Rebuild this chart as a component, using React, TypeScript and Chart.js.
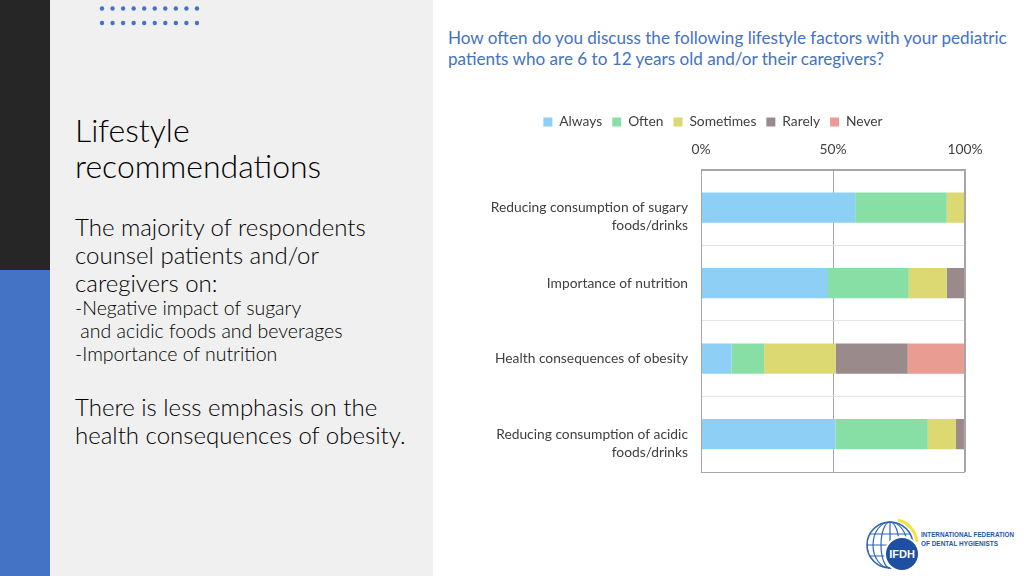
import React, { useEffect, useRef } from "react";
import { Chart, registerables } from "chart.js";

Chart.register(...registerables);

// ---------- data ----------
const categories: (string | string[])[] = [
  ["", "Reducing consumption of sugary", "foods/drinks"],
  "Importance of nutrition",
  "Health consequences of obesity",
  ["", "Reducing consumption of acidic", "foods/drinks"],
];
const seriesNames = ["Always", "Often", "Sometimes", "Rarely", "Never"];
const always = [58.4, 48.1, 11.6, 50.9];
const often = [34.7, 30.6, 12.3, 35.0];
const sometimes = [6.6, 14.4, 27.1, 10.7];
const rarely = [0.3, 6.6, 27.3, 3.0];
const never = [0.0, 0.3, 21.7, 0.4];
const seriesColors = ["#8ECFF5", "#88DFA6", "#DCD872", "#9B8A8B", "#E99D92"];
const xTickValues = [0, 50, 100];
const xTickLabels = ["0%", "50%", "100%"];

const chartTitle = [
  "How often do you discuss the following lifestyle factors with your pediatric",
  "patients who are 6 to 12 years old and/or their caregivers?",
];

const FONT = "Lato, 'Open Sans', sans-serif";
const CHART_FONT_SIZE = 13.8;

const plotBorder = {
  id: "plotBorder",
  afterDraw(chart: any) {
    const { ctx, chartArea } = chart;
    const { left, top, right, bottom } = chartArea;
    ctx.save();
    ctx.strokeStyle = "#A6A6A6";
    ctx.lineWidth = 1;
    ctx.strokeRect(Math.round(left) + 0.5, Math.round(top) + 0.5, Math.round(right - left) - 1, Math.round(bottom - top));
    ctx.restore();
  },
};

function BarChart() {
  const ref = useRef<HTMLCanvasElement | null>(null);
  useEffect(() => {
    if (!ref.current) return;
    const values = [always, often, sometimes, rarely, never];
    const chart = new Chart(ref.current, {
      type: "bar",
      data: {
        labels: categories,
        datasets: seriesNames.map((name, i) => ({
          label: name,
          data: values[i],
          backgroundColor: seriesColors[i],
          borderWidth: 0,
          categoryPercentage: 0.4,
          barPercentage: 1.0,
        })),
      },
      options: {
        indexAxis: "y",
        responsive: false,
        animation: false,
        layout: { padding: { top: 5, bottom: 8, left: 28, right: 59 } },
        plugins: {
          legend: {
            position: "top",
            align: "center",
            labels: {
              boxWidth: 9,
              boxHeight: 9,
              padding: 10,
              color: "#404040",
              font: { family: FONT, size: CHART_FONT_SIZE },
            },
          },
          tooltip: { enabled: false },
        },
        scales: {
          x: {
            position: "top",
            stacked: true,
            min: 0,
            max: 100,
            afterFit(scale: any) {
              scale.height = 31;
              scale.paddingLeft = 0;
              scale.paddingRight = 0;
            },
            afterBuildTicks(scale: any) {
              scale.ticks = xTickValues.map((v) => ({ value: v }));
            },
            ticks: {
              padding: 12,
              color: "#404040",
              font: { family: FONT, size: CHART_FONT_SIZE },
              callback: (v: any) => xTickLabels[xTickValues.indexOf(Number(v))],
            },
            grid: { color: "#A6A6A6", drawTicks: false },
            border: { display: true, color: "#A6A6A6" },
          },
          y: {
            stacked: true,
            afterFit(scale: any) {
              scale.width = 240;
              scale.paddingTop = 0;
              scale.paddingBottom = 0;
            },
            ticks: {
              padding: 13,
              color: "#404040",
              font: { family: FONT, size: CHART_FONT_SIZE, lineHeight: 1.3 },
            },
            grid: { color: "#E3E3E3", drawTicks: false, offset: true },
            border: { display: true, color: "#A6A6A6" },
          },
        },
      },
      plugins: [plotBorder],
    } as any);
    return () => chart.destroy();
  }, []);
  return (
    <canvas
      ref={ref}
      width={591}
      height={380}
      style={{ position: "absolute", left: 433, top: 100, width: 591, height: 380 }}
    />
  );
}

function Line({ text, x, cy, size, weight = 300, color = "#000000" }: any) {
  const lh = Math.round(size * 1.2);
  return (
    <div
      style={{
        position: "absolute",
        left: x,
        top: cy - lh / 2,
        fontSize: size,
        lineHeight: `${lh}px`,
        fontWeight: weight,
        color,
        whiteSpace: "pre",
        fontFamily: FONT,
      }}
    >
      {text}
    </div>
  );
}

function Dots() {
  const circles = [];
  for (let r = 0; r < 2; r++) {
    for (let i = 0; i < 10; i++) {
      circles.push(<circle key={`${r}-${i}`} cx={102 + i * 10.55} cy={8.5 + r * 14.5} r={2.2} fill="#4472C4" />);
    }
  }
  return (
    <svg width={220} height={40} style={{ position: "absolute", left: 0, top: 0 }}>
      {circles}
    </svg>
  );
}

function Logo() {
  return (
    <svg width={164} height={64} style={{ position: "absolute", left: 860, top: 512 }}>
      <path d="M 38 8 A 25 25 0 0 1 57 30" fill="none" stroke="#F2E43C" strokeWidth={3} />
      <circle cx={30} cy={33} r={23} fill="#fff" stroke="#2E63B6" strokeWidth={1.6} />
      <ellipse cx={30} cy={33} rx={9} ry={23} fill="none" stroke="#2E63B6" strokeWidth={1.2} />
      <ellipse cx={30} cy={33} rx={17} ry={23} fill="none" stroke="#2E63B6" strokeWidth={1.2} />
      <line x1={30} y1={10} x2={30} y2={56} stroke="#2E63B6" strokeWidth={1.2} />
      <line x1={9} y1={22} x2={51} y2={22} stroke="#2E63B6" strokeWidth={1.2} />
      <line x1={7} y1={33} x2={53} y2={33} stroke="#2E63B6" strokeWidth={1.2} />
      <line x1={9} y1={44} x2={51} y2={44} stroke="#2E63B6" strokeWidth={1.2} />
      <circle cx={42} cy={42} r={17} fill="#1F4FA0" stroke="#fff" strokeWidth={2} />
      <text x={42} y={46} textAnchor="middle" fill="#fff" fontSize={11} fontWeight={700} fontFamily="'Liberation Sans', sans-serif">
        IFDH
      </text>
      <text x={61} y={25} fill="#2356A8" fontSize={7.5} fontWeight={700} fontFamily="'Liberation Sans', sans-serif" textLength={93} lengthAdjust="spacingAndGlyphs">
        INTERNATIONAL FEDERATION
      </text>
      <text x={61} y={34} fill="#2356A8" fontSize={7.5} fontWeight={700} fontFamily="'Liberation Sans', sans-serif" textLength={77} lengthAdjust="spacingAndGlyphs">
        OF DENTAL HYGIENISTS
      </text>
    </svg>
  );
}

export default function App() {
  return (
    <div
      style={{
        position: "fixed",
        left: 0,
        top: 0,
        width: 1024,
        height: 576,
        overflow: "hidden",
        background: "#FFFFFF",
        fontFamily: FONT,
      }}
    >
      <div style={{ position: "absolute", left: 0, top: 0, width: 50, height: 270, background: "#262626" }} />
      <div style={{ position: "absolute", left: 0, top: 270, width: 50, height: 306, background: "#4472C4" }} />
      <div style={{ position: "absolute", left: 50, top: 0, width: 383, height: 576, background: "#F0F0F0" }} />
      <Dots />

      <Line text="Lifestyle" x={75} cy={130} size={32} weight={300} color="#000000" />
      <Line text="recommendations" x={75} cy={166} size={32} weight={300} color="#000000" />

      <Line text="The majority of respondents" x={75} cy={226} size={24} />
      <Line text="counsel patients and/or" x={75} cy={254} size={24} />
      <Line text="caregivers on:" x={75} cy={282} size={24} />
      <Line text="-Negative impact of sugary" x={75} cy={307} size={19.5} />
      <Line text=" and acidic foods and beverages" x={75} cy={330} size={19.5} />
      <Line text="-Importance of nutrition" x={75} cy={353} size={19.5} />
      <Line text="There is less emphasis on the" x={75} cy={406} size={24} />
      <Line text="health consequences of obesity." x={75} cy={434} size={24} />

      <Line text={chartTitle[0]} x={448} cy={37} size={17.1} weight={400} color="#4472C4" />
      <Line text={chartTitle[1]} x={448} cy={58} size={17.1} weight={400} color="#4472C4" />

      <BarChart />
      <Logo />
    </div>
  );
}
